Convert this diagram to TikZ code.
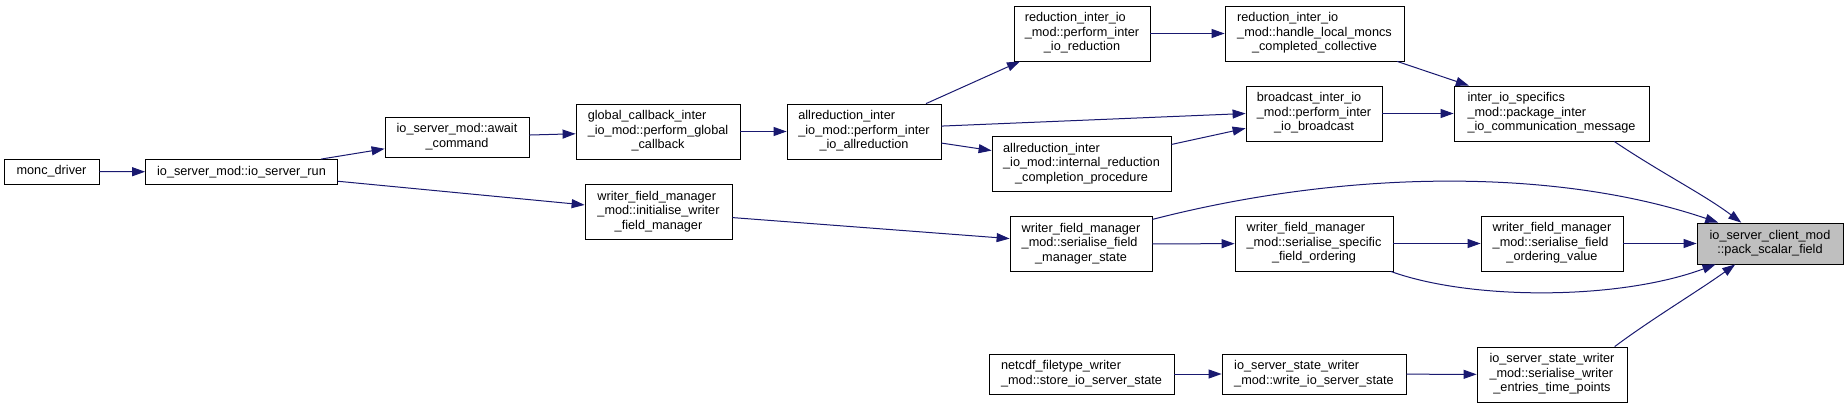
\documentclass[tikz,border=0pt]{standalone}
\usepackage{fontspec}
\setmainfont{Liberation Sans}
\usetikzlibrary{arrows.meta}
\definecolor{edgeblue}{HTML}{191970}
\definecolor{hlgrey}{HTML}{BFBFBF}
\newcommand{\nlab}[2]{\begin{tabular}{@{}l@{}}#1\\\multicolumn{1}{@{}c@{}}{#2}\end{tabular}}
\begin{document}
\begin{tikzpicture}[x=1pt,y=-1pt,
  fn/.style={draw=black, line width=0.8pt, fill=white, inner sep=0pt, font=\fontsize{12.7}{14.5}\selectfont},
  hA/.style={minimum height=25},
  hB/.style={minimum height=40},
  hC/.style={minimum height=55},
  call/.style={draw=edgeblue, line width=1pt, -{Triangle[length=13pt,width=9pt]}}]
\fill[white] (0,0) rectangle (1848,408);
\useasboundingbox (0,0) rectangle (1848,408);

\node[fn,hA,minimum width=95]  (monc)    at (51.5,171.5) {monc\_driver};
\node[fn,hA,minimum width=192] (iorun)   at (241.5,172)  {io\_server\_mod::io\_server\_run};
\node[fn,hB,minimum width=144] (await)   at (457,137)    {\nlab{io\_server\_mod::await}{\_command}};
\node[fn,hC,minimum width=164] (glob)    at (658,131.5)  {\nlab{global\_callback\_inter\\\_io\_mod::perform\_global}{\_callback}};
\node[fn,hC,minimum width=154] (allred)  at (864,131.5)  {\nlab{allreduction\_inter\\\_io\_mod::perform\_inter}{\_io\_allreduction}};
\node[fn,hC,minimum width=136] (redperf) at (1082,33.5)  {\nlab{reduction\_inter\_io\\\_mod::perform\_inter}{\_io\_reduction}};
\node[fn,hC,minimum width=179] (internal) at (1081.5,164) {\nlab{allreduction\_inter\\\_io\_mod::internal\_reduction}{\_completion\_procedure}};
\node[fn,hC,minimum width=179] (handle)  at (1314.5,33.5) {\nlab{reduction\_inter\_io\\\_mod::handle\_local\_moncs}{\_completed\_collective}};
\node[fn,hC,minimum width=136] (bcast)   at (1314,113.5) {\nlab{broadcast\_inter\_io\\\_mod::perform\_inter}{\_io\_broadcast}};
\node[fn,hC,minimum width=195] (package) at (1551.5,113.5) {\nlab{inter\_io\_specifics\\\_mod::package\_inter}{\_io\_communication\_message}};
\node[fn,hC,minimum width=147] (init)    at (658.5,212)  {\nlab{writer\_field\_manager\\\_mod::initialise\_writer}{\_field\_manager}};
\node[fn,hC,minimum width=142] (fmstate) at (1081,244)   {\nlab{writer\_field\_manager\\\_mod::serialise\_field}{\_manager\_state}};
\node[fn,hB,minimum width=185] (netcdf)  at (1081.5,374) {\nlab{netcdf\_filetype\_writer}{\_mod::store\_io\_server\_state}};
\node[fn,hC,minimum width=158] (specific) at (1314,243.5) {\nlab{writer\_field\_manager\\\_mod::serialise\_specific}{\_field\_ordering}};
\node[fn,hC,minimum width=142] (value)   at (1552,243.5) {\nlab{writer\_field\_manager\\\_mod::serialise\_field}{\_ordering\_value}};
\node[fn,minimum height=41,minimum width=146,fill=hlgrey] (pack) at (1770,243.5) {\nlab{io\_server\_client\_mod}{::pack\_scalar\_field}};
\node[fn,hB,minimum width=184] (write)   at (1314,374)   {\nlab{io\_server\_state\_writer}{\_mod::write\_io\_server\_state}};
\node[fn,hC,minimum width=150] (entries) at (1552,374.5) {\nlab{io\_server\_state\_writer\\\_mod::serialise\_writer}{\_entries\_time\_points}};

\draw[call] (monc) -- (iorun);
\draw[call] (iorun) -- (await);
\draw[call] (iorun) -- (init);
\draw[call] (await) -- (glob);
\draw[call] (glob) -- (allred);
\draw[call] (allred) -- (redperf);
\draw[call] (allred.4) -- (bcast.west);
\draw[call] (allred) -- (internal);
\draw[call] (internal) -- (bcast);
\draw[call] (redperf) -- (handle);
\draw[call] (handle) -- (package);
\draw[call] (bcast) -- (package);
\draw[call] (package.-24) .. controls +(46,31) and +(-37,-28) .. (pack.144);
\draw[call] (init) -- (fmstate);
\draw[call] (fmstate.19) .. controls +(198,-51) and +(-159,-54) .. (pack.158);
\draw[call] (fmstate) -- (specific);
\draw[call] (specific) -- (value);
\draw[call] (value) -- (pack);
\draw[call] (specific.-20) .. controls +(80,29) and +(-97,36) .. (pack.-159);
\draw[call] (netcdf) -- (write);
\draw[call] (write) -- (entries);
\draw[call] (entries.24) .. controls +(36,-27) and +(-36,26) .. (pack.-149);
\end{tikzpicture}
\end{document}
